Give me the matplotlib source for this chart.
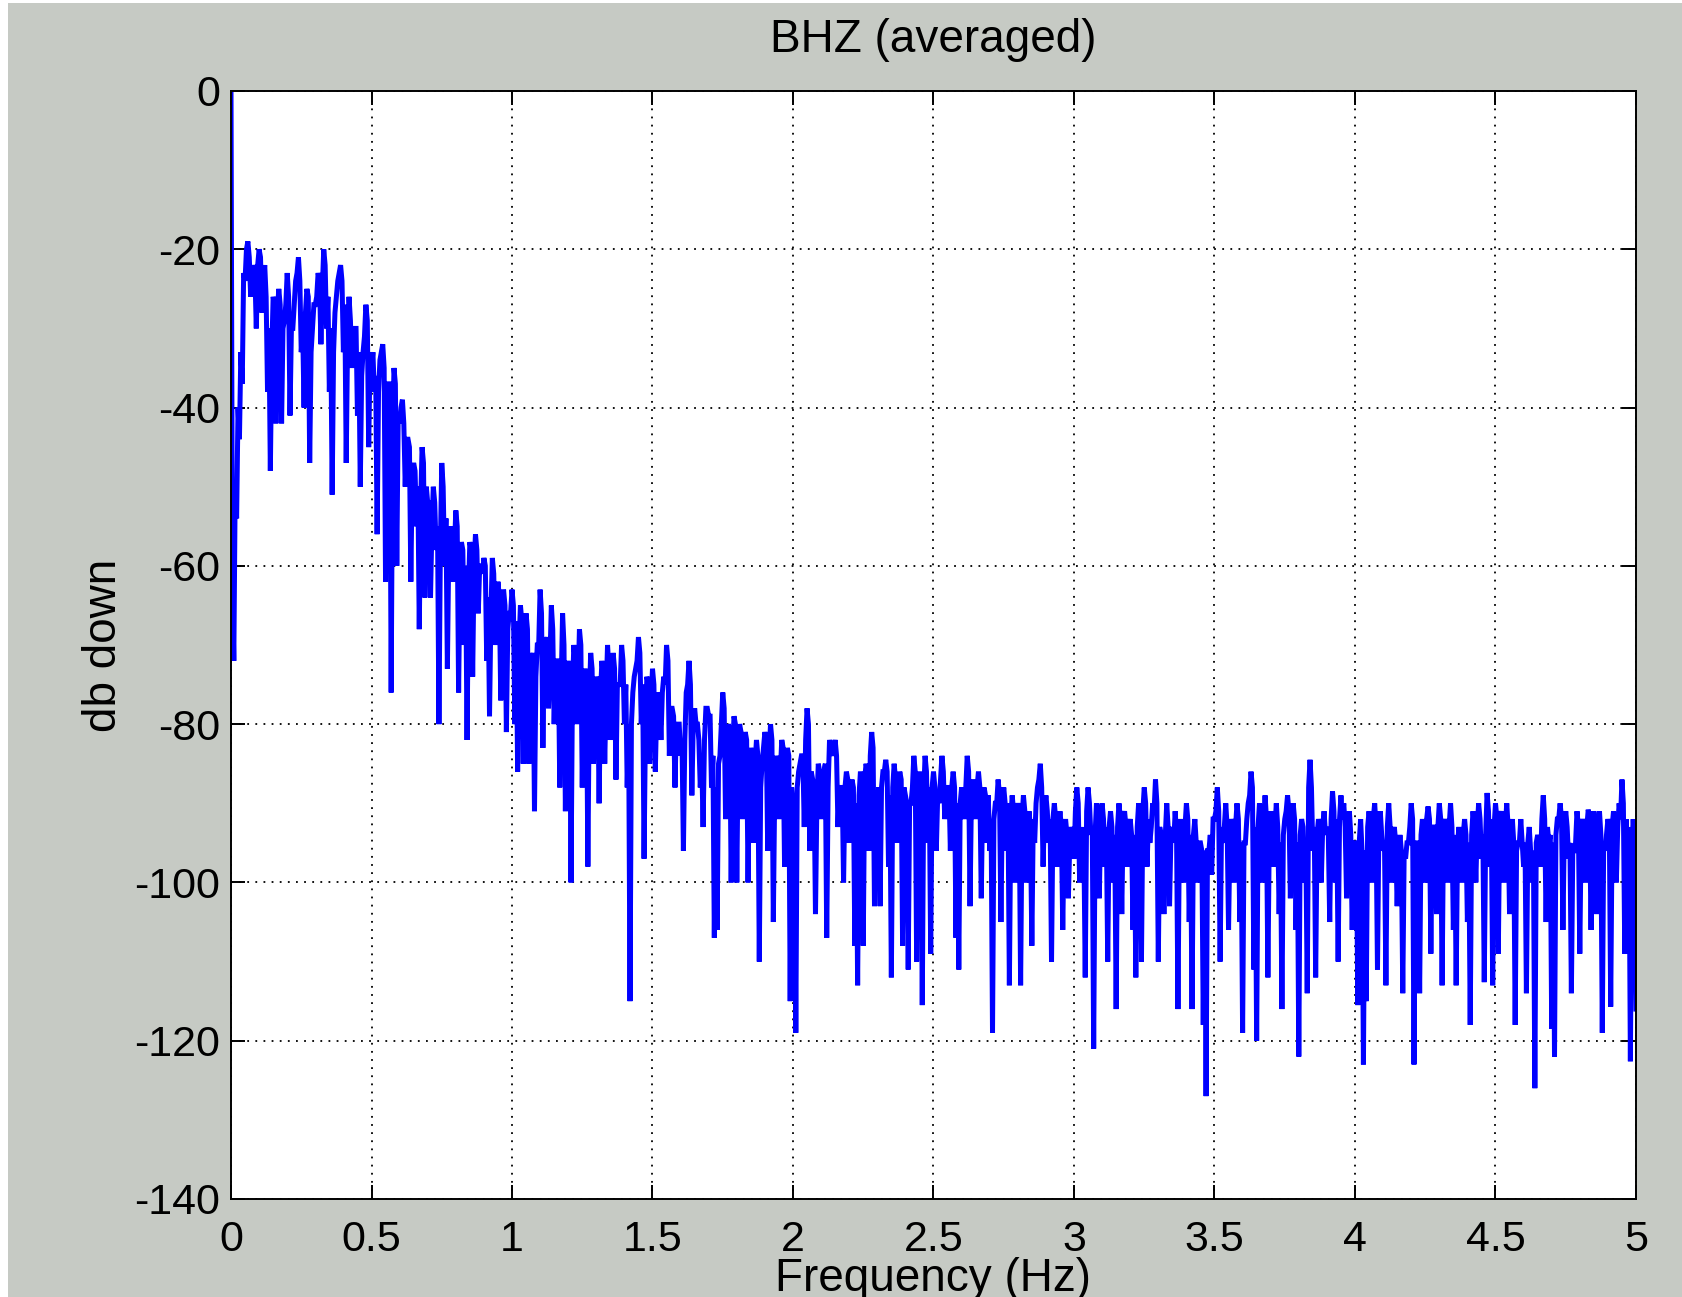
import numpy as np
import matplotlib
matplotlib.use('Agg')
import matplotlib.pyplot as plt
from matplotlib.patches import Rectangle

# spectrum: values at k*0.01 Hz ...
f_step = 0.01
db_0_1 = [0, -72, -54, -44, -37, -24, -19, -26, -22, -30,
          -20, -28, -22, -38, -48, -26, -42, -25, -42, -29,
          -23, -41, -30, -24, -21, -33, -40, -25, -47, -30,
          -27, -23, -32, -20, -30, -38, -51, -28, -24, -22,
          -33, -47, -26, -35, -30, -41, -50, -33, -27, -45,
          -35, -38, -56, -34, -32, -62, -37, -76, -35, -60,
          -42, -39, -50, -44, -62, -47, -55, -68, -45, -64,
          -52, -64, -50, -58, -80, -47, -60, -73, -55, -62,
          -53, -76, -57, -70, -82, -57, -74, -56, -66, -60,
          -59, -72, -79, -59, -70, -62, -77, -63, -81, -66]
db_1_2 = [-63, -80, -86, -65, -85, -66, -85, -72, -91, -70,
          -63, -83, -70, -78, -65, -80, -72, -88, -66, -91,
          -72, -100, -70, -80, -68, -88, -73, -98, -71, -85,
          -74, -90, -72, -85, -70, -82, -71, -87, -75, -70,
          -80, -88, -115, -76, -73, -69, -80, -97, -74, -85,
          -73, -86, -76, -82, -74, -70, -84, -78, -88, -80,
          -84, -96, -76, -72, -89, -78, -80, -88, -93, -78,
          -79, -88, -107, -106, -84, -76, -92, -80, -100, -79,
          -100, -80, -92, -81, -100, -83, -95, -82, -110, -85,
          -81, -96, -80, -105, -84, -92, -82, -98, -83, -115]
db_2_3 = [-90, -119, -86, -84, -93, -78, -96, -87, -104, -85,
          -92, -86, -107, -82, -84, -82, -93, -88, -100, -86,
          -95, -87, -108, -113, -86, -108, -85, -96, -81, -103,
          -90, -103, -86, -84.5, -98, -112, -85, -95, -86, -108,
          -89, -111, -90, -84, -110, -86, -115.5, -84, -95, -109,
          -86, -96, -90, -84, -92, -88, -96, -86, -107, -111,
          -88, -92, -84, -103, -87, -92, -86, -102, -88, -95,
          -96, -119, -90, -87, -105, -88, -96, -113, -89, -100,
          -90, -113, -89, -100, -91, -108, -95, -88, -85, -98,
          -89, -95, -110, -90, -98, -91, -106, -92, -102, -93]
db_3_4 = [-97, -88, -100, -96, -112, -88, -94, -121, -90, -102,
          -90, -98, -110, -91, -100, -116, -90, -104, -91, -98,
          -92, -106, -112, -90, -110, -88, -98, -95, -90, -87,
          -110, -94, -104, -90, -103, -93, -91, -116, -92, -100,
          -90, -105, -116, -92, -100, -95, -118, -127, -96, -99,
          -92, -88, -110, -95, -90, -106, -92, -100, -90, -105,
          -119, -95, -90, -86, -111, -120, -90, -100, -89, -112,
          -91, -98, -90, -104, -116, -92, -89, -102, -90, -106,
          -122, -92, -100, -114, -84.5, -96, -112, -92, -100, -91,
          -93, -105, -88.5, -100, -110, -89, -90, -102, -91, -106]
db_4_5 = [-95, -115.5, -92, -123, -115, -91, -100, -90, -111, -91,
          -96, -113, -90, -100, -93, -103, -94, -114, -97, -95,
          -90, -123, -95, -114, -92, -100, -90.4, -109, -93, -104,
          -90, -113, -92, -100, -90, -106, -113, -93, -100, -92,
          -105, -118, -91, -100, -90, -97, -112.6, -88.7, -98, -113,
          -90, -109, -91, -100, -90, -104, -92, -118, -95, -92,
          -98, -114, -93, -100, -126, -94, -98, -89, -105, -95,
          -118.5, -122, -92, -90, -106, -91, -97, -114, -96, -91,
          -109, -92, -100, -90.8, -106, -91, -104, -91, -119, -96,
          -92, -115.7, -91, -100, -90, -87, -109, -96, -122.6, -92,
          -116]

# ... and the top of the dense band at k*0.01 + 0.005 Hz
mid_0_1 = [-62, -50, -40, -33, -23, -20, -21, -24, -23, -22,
           -21, -24, -26, -30, -33, -27, -28, -27, -30, -27,
           -26, -30, -27, -23, -24, -30, -28, -26, -33, -27,
           -26, -24, -25, -22, -26, -30, -33, -26, -23, -24,
           -27, -31, -29, -30, -30, -33, -36, -31, -29, -33,
           -33, -36, -38, -33, -35, -40, -37, -44, -37, -41,
           -40, -42, -44, -45, -48, -48, -50, -52, -47, -50,
           -52, -55, -52, -55, -58, -50, -54, -58, -57, -58,
           -55, -60, -58, -60, -63, -58, -60, -58, -60, -61,
           -60, -64, -66, -61, -65, -64, -67, -65, -68, -66]
mid_1_2 = [-65, -67, -70, -67, -70, -68, -72, -71, -74, -70,
           -66, -70, -69, -72, -68, -73, -72, -75, -70, -74,
           -74, -76, -72, -75, -70, -74, -74, -77, -73, -76,
           -75, -76, -74, -76, -73, -75, -73, -75, -75, -72,
           -75, -80, -80, -74, -72, -71, -75, -80, -75, -77,
           -75, -78, -77, -76, -75, -72, -78, -79, -80, -80,
           -82, -82, -75, -75, -80, -80, -82, -84, -82, -78,
           -79, -84, -88, -85, -80, -78, -82, -81, -84, -80,
           -83, -81, -84, -82, -86, -84, -85, -84, -88, -83,
           -82, -84, -82, -88, -85, -86, -83, -86, -84, -88]
mid_2_3 = [-90, -88, -85, -84, -82, -80, -86, -88, -90, -86,
           -87, -85, -88, -83, -83, -84, -88, -88, -88, -87,
           -88, -88, -90, -89, -88, -87, -86, -84, -83, -90,
           -88, -88, -86, -86, -89, -88, -87, -88, -87, -88,
           -90, -90, -88, -86, -88, -88, -89, -86, -88, -88,
           -88, -89, -87, -86, -89, -88, -88, -88, -90, -90,
           -90, -88, -86, -89, -89, -88, -88, -89, -89, -89,
           -92, -92, -90, -89, -90, -90, -90, -92, -91, -91,
           -91, -92, -91, -93, -93, -92, -90, -87, -88, -91,
           -91, -92, -92, -92, -93, -93, -94, -94, -95, -94]
mid_3_4 = [-91, -90, -93, -95, -91, -90, -93, -94, -92, -92,
           -92, -93, -93, -93, -94, -93, -92, -92, -93, -93,
           -94, -94, -93, -93, -91, -90, -92, -93, -91, -90,
           -93, -94, -94, -93, -94, -95, -94, -94, -94, -93,
           -92, -94, -94, -95, -95, -96, -96, -96, -94, -92,
           -91, -91, -93, -93, -93, -94, -93, -93, -92, -95,
           -95, -92, -89, -88, -93, -93, -92, -92, -92, -94,
           -93, -93, -93, -95, -94, -91, -91, -92, -92, -95,
           -94, -93, -95, -88, -88, -93, -94, -93, -93, -94,
           -94, -92, -91, -92, -92, -92, -93, -93, -94, -95]
mid_4_5 = [-95, -95, -96, -96, -93, -93, -92, -93, -93, -94,
           -95, -93, -93, -94, -95, -96, -96, -96, -95, -93,
           -92, -95, -96, -94, -94, -92, -92, -93, -93, -93,
           -92, -93, -93, -93, -93, -94, -95, -95, -94, -94,
           -95, -94, -93, -93, -92, -94, -94, -91, -92, -93,
           -92, -92, -93, -93, -93, -94, -95, -96, -95, -95,
           -95, -95, -96, -96, -95, -95, -92, -92, -93, -94,
           -95, -94, -92, -92, -93, -93, -95, -96, -95, -93,
           -93, -93, -93, -92, -93, -93, -93, -94, -95, -94,
           -93, -93, -93, -93, -92, -90, -92, -93, -96, -95]

db_main = np.array(db_0_1 + db_1_2 + db_2_3 + db_3_4 + db_4_5, dtype=float)
db_mid = np.array(mid_0_1 + mid_1_2 + mid_2_3 + mid_3_4 + mid_4_5, dtype=float)

db = np.empty(len(db_main) + len(db_mid))
db[0::2] = db_main
db[1::2] = db_mid
freq = np.arange(len(db)) * f_step / 2

x_ticks = [0, 0.5, 1, 1.5, 2, 2.5, 3, 3.5, 4, 4.5, 5]
x_labels = ['0', '0.5', '1', '1.5', '2', '2.5', '3', '3.5', '4', '4.5', '5']
y_ticks = [0, -20, -40, -60, -80, -100, -120, -140]

plt.rcParams['font.family'] = ['Liberation Sans', 'DejaVu Sans']
plt.rcParams['path.simplify'] = False

W, H = 1683, 1297
fig = plt.figure(figsize=(W / 100, H / 100), dpi=100, facecolor='white')
# grey matlab-style background, thin white edge on the left and top
fig.patches.append(Rectangle((8 / W, 0), 1, 1 - 3 / H, transform=fig.transFigure,
                             facecolor='#c6cac4', edgecolor='none', zorder=-10))

ax = fig.add_axes([231 / W, 1 - 1199 / H, 1405 / W, 1108 / H])
ax.set_facecolor('white')
ax.plot(freq, db, color='#0000ff', lw=3.6, snap=False, solid_joinstyle='miter')

ax.set_xlim(0, 5)
ax.set_ylim(-140, 0)
ax.set_xticks(x_ticks)
ax.set_xticklabels(x_labels)
ax.set_yticks(y_ticks)
ax.set_yticklabels([str(v) for v in y_ticks])
ax.grid(True, color='black', ls=(0, (1, 3.5)), lw=1.3)
ax.tick_params(direction='in', length=10, width=1.4, labelsize=31,
               top=True, right=True, colors='black')
ax.tick_params(axis='x', pad=15)
ax.tick_params(axis='y', pad=8)
for s in ax.spines.values():
    s.set_linewidth(1.4)
    s.set_color('black')

ax.set_xlabel('Frequency (Hz)', fontsize=33, va='baseline')
ax.xaxis.set_label_coords(0.5, (1199 - 1291) / 1108)
ax.set_ylabel('db down', fontsize=33, va='center')
ax.yaxis.set_label_coords((104 - 231) / 1405, 0.5)

fig.text(0.5 * (231 + 1636) / W, 1 - 52 / H, 'BHZ (averaged)', fontsize=33,
         ha='center', va='baseline')

fig.savefig('out.png', dpi=100, facecolor=fig.get_facecolor())
